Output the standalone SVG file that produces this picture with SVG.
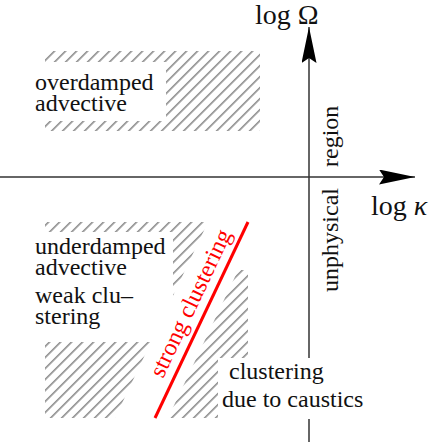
<svg xmlns="http://www.w3.org/2000/svg" width="436" height="442" viewBox="0 0 436 442">
<style>
text{font-family:'Liberation Serif','DejaVu Serif',serif}
.t{font-size:24px;fill:#111}
.ax{font-size:28px;fill:#111}
.axis{stroke:#333;stroke-width:1.5;fill:none}
.h{fill:url(#hatch);stroke:none}
</style>
<defs>
<pattern id="hatch" patternUnits="userSpaceOnUse" width="7.778" height="10" patternTransform="rotate(45)">
<line x1="4.74" y1="-1" x2="4.74" y2="11" stroke="#444" stroke-width="1"/>
</pattern>
<marker id="arr" markerUnits="userSpaceOnUse" markerWidth="40" markerHeight="16" refX="36" refY="7.5" orient="auto">
<path d="M0,0 L36,7.5 L0,15 L5,7.5 Z" fill="#000"/>
</marker>
</defs>
<rect width="436" height="442" fill="#fff"/>
<g id="regions">
<path id="regionA" class="h" d="M45,51 H260 V131 H45 V121 H166 V62 H45 Z"/>
<path id="regionB" class="h" d="M45,222 H208 L173,295.8 V232 H45 Z M45,342 H151 L115,418 H45 Z"/>
<path id="regionC" class="h" d="M238.2,270 H248 V358 H218 V418 H168 Z"/>
</g>
<g id="connectors">
<line class="axis" x1="0" y1="177" x2="415" y2="177" marker-end="url(#arr)"/>
<line class="axis" x1="309" y1="358" x2="309" y2="27" marker-end="url(#arr)"/>
<line class="axis" x1="309" y1="419" x2="309" y2="442"/>
<line id="boundary" x1="155" y1="418" x2="248" y2="222" stroke="#f00" stroke-width="3"/>
</g>
<g id="labels" font-family="Liberation Serif, DejaVu Serif, serif">
<text class="t" x="35" y="89.5">overdamped</text>
<text class="t" x="35" y="110.5">advective</text>
<text class="t" x="35" y="253.5">underdamped</text>
<text class="t" x="35" y="274.5">advective</text>
<text class="t" x="35" y="302.5">weak clu–</text>
<text class="t" x="35" y="324">stering</text>
<text class="t" x="229" y="379">clustering</text>
<text class="t" x="222" y="407">due to caustics</text>
<text class="t" transform="translate(338,292) rotate(-90)">unphysical</text>
<text class="t" transform="translate(338,167) rotate(-90)">region</text>
<text class="t" style="fill:#f00" transform="translate(163,379) rotate(-64.6)">strong clustering</text>
<text class="ax" x="255" y="24">log Ω</text>
<text class="ax" x="371" y="215">log <tspan font-style="italic">κ</tspan></text>
</g>
</svg>
